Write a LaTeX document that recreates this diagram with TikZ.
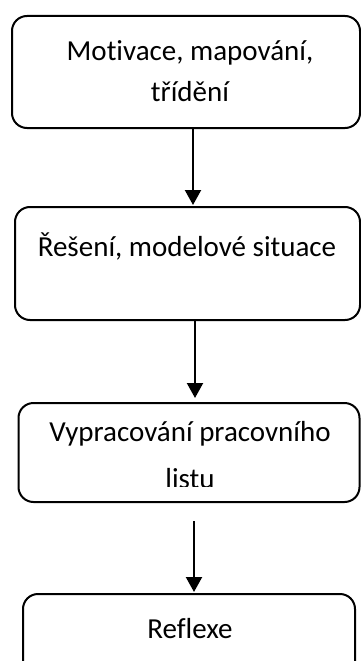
\documentclass[tikz,border=0pt]{standalone}
\usepackage{fontspec}
\setmainfont{Carlito}[Ligatures=NoCommon]
\usetikzlibrary{arrows.meta}
\tikzset{
  box/.style={draw=black, line width=2pt, rounded corners=15pt, rectangle, inner sep=0pt},
  txt/.style={font=\fontsize{29}{34}\selectfont, inner sep=0pt, anchor=base, text=black},
  arr/.style={line width=2.2pt, -{Triangle[width=16pt,length=15pt]}}
}
\begin{document}
\begin{tikzpicture}[x=1pt,y=-1pt]
\useasboundingbox (0,0) rectangle (361,661);
\clip (0,0) rectangle (361,661);
% boxes
\node[box, minimum width=348pt, minimum height=112pt] (B1) at (186,72) {};
\node[box, minimum width=345pt, minimum height=113pt] (B2) at (187.5,263.5) {};
\node[box, minimum width=341pt, minimum height=99pt] (B3) at (189,452.5) {};
\node[box, minimum width=332pt, minimum height=100pt] (B4) at (189,644) {};
% texts
\node[txt] (t1a) at (190,60) {Motivace, mapování,};
\node[txt] (t1b) at (190,101) {třídění};
\node[txt] (t2) at (187,256) {Řešení, modelové situace};
\node[txt] (t3a) at (190,441) {Vypracování pracovního};
\begin{scope}
\clip (0,0) rectangle (361,486);
\node[txt] (t3b) at (190,488) {listu};
\end{scope}
\node[txt] (t4) at (190,638) {Reflexe};
% arrow columns
\coordinate (c1) at (193,0);
\coordinate (c2) at (195,0);
\coordinate (c3) at (194,0);
\draw[arr, shorten >=1pt] (B1.south -| c1) -- (B2.north -| c1);
\draw[arr, shorten >=4pt] (B2.south -| c2) -- (B3.north -| c2);
\draw[arr, shorten <=18pt, shorten >=1pt] (B3.south -| c3) -- (B4.north -| c3);
\end{tikzpicture}
\end{document}
